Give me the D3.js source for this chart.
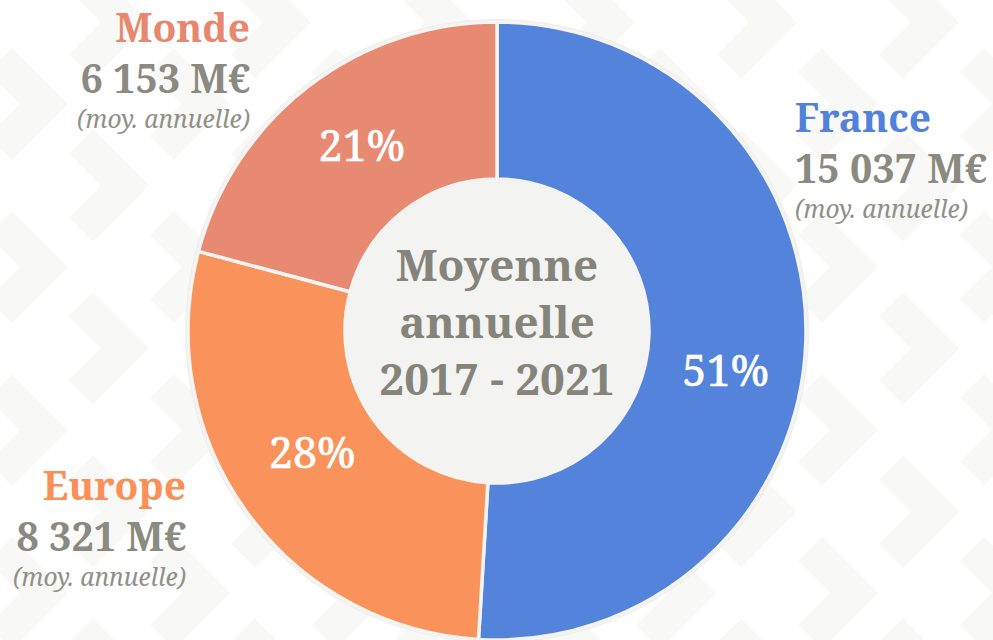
<!DOCTYPE html>
<html>
<head>
<meta charset="utf-8">
<script src="https://cdn.jsdelivr.net/npm/d3@7"></script>
<style>
html,body{margin:0;padding:0;background:#ffffff;}
svg{display:block;}
</style>
</head>
<body>
<svg id="chart" width="993" height="640"></svg>
<script>
// ---- Data ----
const categories = ["France", "Europe", "Monde"];
const values = [15037, 8321, 6153];            // M€ (moyenne annuelle 2017-2021)
const valueLabels = ["15 037 M€", "8 321 M€", "6 153 M€"];
const subLabel = "(moy. annuelle)";
const centerLines = ["Moyenne", "annuelle", "2017 - 2021"];
const colors = ["#5483db", "#fa935b", "#e88a72"];
const titleColors = ["#5181da", "#fa8f57", "#e8866e"];

const W = 993, H = 640;
const svg = d3.select("#chart");
const FONT = "'Noto Serif', serif";

// ---- Background chevron pattern ----
const bg = svg.append("g");
const stepX = 81, stepY = 163;
for (let k = -1; k <= 13; k++) {
  const tx = 68 + stepX * k;
  const oy = (k % 2 === 0) ? 104 : 104 + stepY / 2;
  for (let j = -2; j <= 5; j++) {
    const ty = oy + stepY * j;
    const cx = tx - 24;
    bg.append("path")
      .attr("d", `M${cx - 44},${ty - 44}L${cx},${ty}L${cx - 44},${ty + 44}`)
      .attr("fill", "none")
      .attr("stroke", "#f8f8f6")
      .attr("stroke-width", 34)
      .attr("stroke-linejoin", "miter")
      .attr("stroke-linecap", "butt");
  }
}

// ---- Donut ----
const cx = 497, cy = 331, R = 309, r = 152;
const g = svg.append("g").attr("transform", `translate(${cx},${cy})`);

g.append("circle").attr("r", R + 3).attr("fill", "#eeeeec");

const pie = d3.pie().sort(null).value(d => d.value);
const data = categories.map((c, i) => ({name: c, value: values[i], color: colors[i]}));
const arcs = pie(data);
const arc = d3.arc().innerRadius(r).outerRadius(R);

g.selectAll("path.slice").data(arcs).enter().append("path")
  .attr("class", "slice")
  .attr("d", arc)
  .attr("fill", d => d.data.color)
  .attr("stroke", "#f4f4f2")
  .attr("stroke-width", 3.5)
  .attr("stroke-linejoin", "round");

g.append("circle").attr("r", r).attr("fill", "#f3f3f1");

// percentage labels (placed near each slice's centroid)
const total = d3.sum(values);
const angleShift = {France: 0.14, Europe: 0.045, Monde: 0.026};
const labelRadius = {France: 232, Europe: 221, Monde: 230};
g.selectAll("text.pct").data(arcs).enter().append("text")
  .attr("class", "pct")
  .attr("transform", d => {
    const s = angleShift[d.data.name] || 0;
    const rr = labelRadius[d.data.name];
    const c = d3.arc().innerRadius(rr).outerRadius(rr)
      .centroid({startAngle: d.startAngle + s, endAngle: d.endAngle + s});
    return `translate(${c[0]},${c[1]})`;
  })
  .attr("text-anchor", "middle")
  .attr("dy", "0.36em")
  .attr("font-family", FONT)
  .attr("font-size", 43)
  .attr("fill", "#ffffff")
  .attr("stroke", "#ffffff")
  .attr("stroke-width", 0.6)
  .text(d => Math.round(d.data.value / total * 100) + "%");

// center text
const centerY = [-50, 7, 64];
g.selectAll("text.center").data(centerLines).enter().append("text")
  .attr("class", "center")
  .attr("x", 0)
  .attr("y", (d, i) => centerY[i])
  .attr("text-anchor", "middle")
  .attr("font-family", FONT)
  .attr("font-weight", "bold")
  .attr("font-size", 44)
  .attr("fill", "#84847a")
  .text(d => d);

// ---- Side legends ----
const legendPos = {
  France: {x: 795, y: 132, anchor: "start"},
  Europe: {x: 186, y: 500, anchor: "end"},
  Monde:  {x: 250, y: 42,  anchor: "end"}
};
categories.forEach((c, i) => {
  const p = legendPos[c];
  const lg = svg.append("g").attr("transform", `translate(${p.x},${p.y})`);
  lg.append("text")
    .attr("text-anchor", p.anchor)
    .attr("font-family", FONT).attr("font-weight", "bold").attr("font-size", 39)
    .attr("fill", titleColors[i]).text(c);
  lg.append("text")
    .attr("y", 51)
    .attr("text-anchor", p.anchor)
    .attr("font-family", FONT).attr("font-weight", "bold").attr("font-size", 39.5)
    .attr("fill", "#8a8a80").text(valueLabels[i]);
  lg.append("text")
    .attr("y", 86)
    .attr("text-anchor", p.anchor)
    .attr("font-family", FONT).attr("font-style", "italic").attr("font-size", 24.5)
    .attr("fill", "#909087").text(subLabel);
});
</script>
</body>
</html>
